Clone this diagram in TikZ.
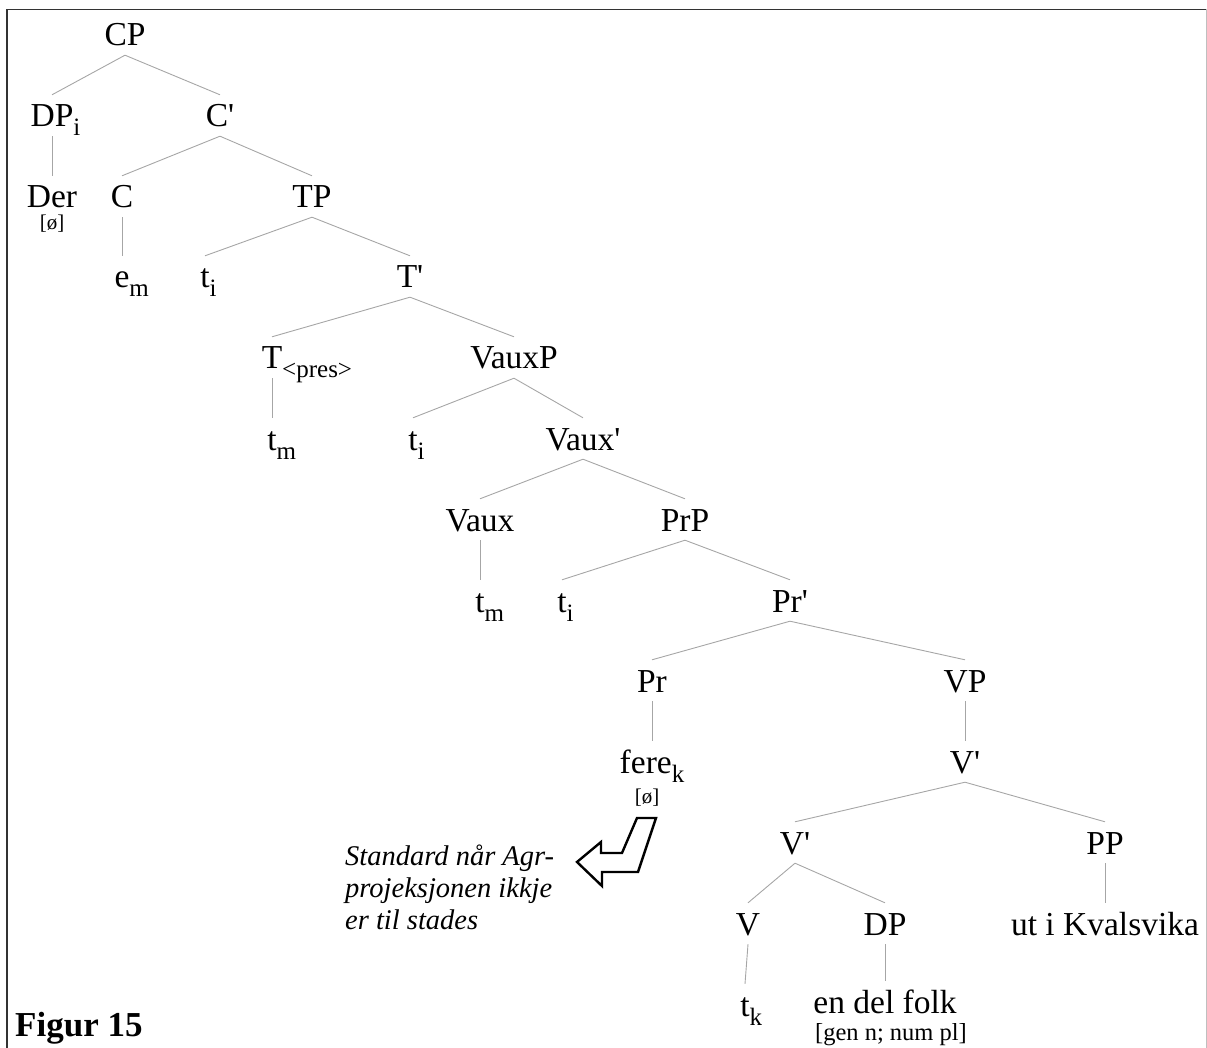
\documentclass[tikz,border=0pt]{standalone}
\usepackage{fontspec}
\setmainfont{Liberation Serif}
% subscript that hangs to the right of its head without shifting the node centre
\newcommand\lowsub[1]{\rlap{\raisebox{-9pt}{\fontsize{25}{25}\selectfont #1}}}
\newcommand\insub[1]{\raisebox{-9pt}{\fontsize{25}{25}\selectfont #1}}
% straight prime for bar levels
\newcommand\barlvl{\textquotesingle}
\begin{document}
\begin{tikzpicture}[x=1pt,y=-1pt,
  cat/.style={anchor=base, inner sep=0pt, text height=32pt, text depth=9pt,
              font=\fontsize{33.5}{38}\selectfont},
  feat/.style={anchor=base, inner sep=0pt, font=\fontsize{21}{24}\selectfont},
  branch/.style={draw=black!35, line width=0.9pt},
  frame/.style={draw=black!80, line width=1.4pt},
]
\useasboundingbox (0,0) rectangle (1207,1048);

% frame
\draw[frame] (7,1048) -- (7,9.5) -- (1207,9.5);
\draw[draw=black!25, line width=1pt] (1206,9.5) -- (1206,1048);

% tree nodes, one row per level (baselines)
\node[cat] (CP)      at (125,46)  {CP};
\node[cat] (DPi)     at (52,127)  {DP\lowsub{i}};
\node[cat] (Cbar)    at (220,127) {C\barlvl};
\node[cat, text depth=2pt] (Der) at (52,208) {Der};
\node[feat] (Derf)   at (52,230)  {[ø]};
\node[cat] (C)       at (122,208) {C};
\node[cat] (TP)      at (312,208) {TP};
\node[cat] (em)      at (122,288) {e\lowsub{m}};
\node[cat] (ti1)     at (205,288) {t\lowsub{i}};
\node[cat] (Tbar)    at (410,288) {T\barlvl};
\node[cat] (T)       at (272,369) {T\lowsub{<pres>}};
\node[cat] (VauxP)   at (514,369) {VauxP};
\node[cat] (tm1)     at (272,450) {t\lowsub{m}};
\node[cat] (ti2)     at (413,450) {t\lowsub{i}};
\node[cat] (Vauxbar) at (583,450) {Vaux\barlvl};
\node[cat] (Vaux)    at (480,531) {Vaux};
\node[cat] (PrP)     at (685,531) {PrP};
\node[cat] (tm2)     at (480,612) {t\lowsub{m}};
\node[cat] (ti3)     at (562,612) {t\lowsub{i}};
\node[cat] (Prbar)   at (790,612) {Pr\barlvl};
\node[cat] (Pr)      at (652,692) {Pr};
\node[cat] (VP)      at (965,692) {VP};
\node[cat, text depth=3pt] (fere) at (652,773) {fere\insub{k}};
\node[feat] (feref)  at (647,803) {[ø]};
\node[cat] (Vbara)   at (965,773) {V\barlvl};
\node[cat] (Vbarb)   at (795,854) {V\barlvl};
\node[cat] (PP)      at (1105,854) {PP};
\node[cat] (V)       at (748,935) {V};
\node[cat] (DP)      at (885,935) {DP};
\node[cat] (utK)     at (1105,935) {ut i Kvalsvika};
\node[cat] (tk)      at (745,1016) {t\lowsub{k}};
\node[cat, text depth=1pt] (folk) at (885,1013) {en del folk};
\node[feat, font=\fontsize{24.5}{28}\selectfont] (folkf) at (891,1040) {[gen n; num pl]};

% branches
\foreach \p/\c in {CP/DPi, CP/Cbar, DPi/Der, Cbar/C, Cbar/TP, C/em, TP/ti1, TP/Tbar,
                   Tbar/T, Tbar/VauxP, T/tm1, VauxP/ti2, VauxP/Vauxbar,
                   Vauxbar/Vaux, Vauxbar/PrP, Vaux/tm2, PrP/ti3, PrP/Prbar,
                   Prbar/Pr, Prbar/VP, Pr/fere, VP/Vbara, Vbara/Vbarb, Vbara/PP,
                   Vbarb/V, Vbarb/DP, PP/utK, V/tk, DP/folk}
  \draw[branch] (\p.south) -- (\c.north);

% hollow pointer arrow and its comment
\draw[line width=2.4pt, line join=miter]
  (577,862) -- (601,842) -- (601,853) -- (622,853) -- (637,818) -- (656,818)
  -- (638,872) -- (602,872) -- (602,886) -- cycle;
\node[anchor=base west, inner sep=0pt, align=left,
      font=\itshape\fontsize{28.5}{32}\selectfont] (note) at (345,929)
  {Standard når Agr-\\projeksjonen ikkje\\er til stades};

% caption
\node[anchor=base west, inner sep=0pt, font=\bfseries\fontsize{35}{40}\selectfont]
  (cap) at (15,1036) {Figur 15};
\end{tikzpicture}
\end{document}
